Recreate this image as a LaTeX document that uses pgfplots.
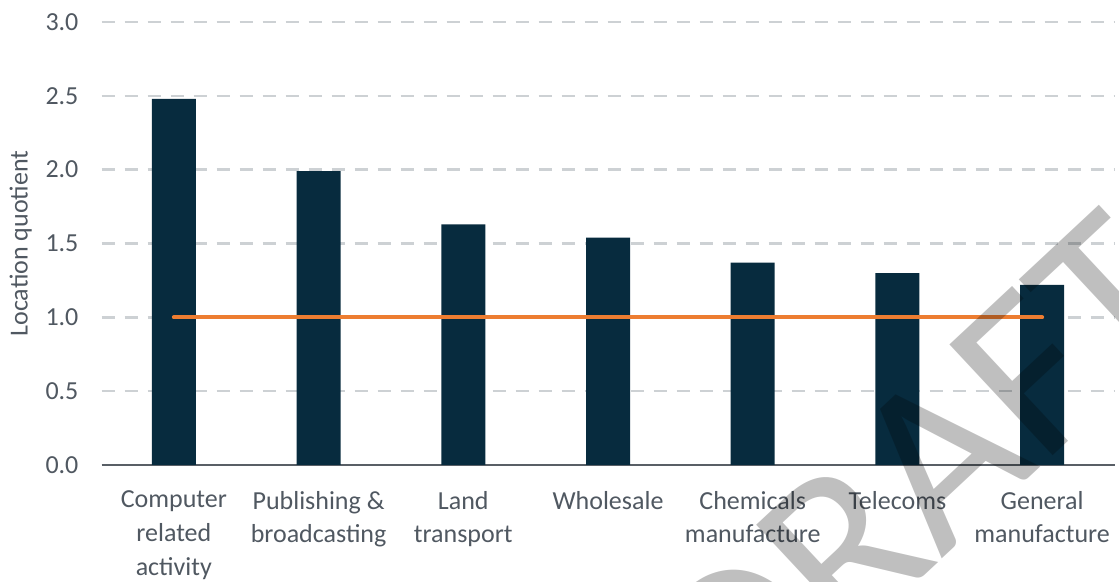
\documentclass[border=0pt]{standalone}
\usepackage{fontspec}
\setmainfont{Carlito}
\usepackage{pgfplots}
\pgfplotsset{compat=1.18}
\usetikzlibrary{calc}
\definecolor{barnavy}{RGB}{7,43,62}
\definecolor{lqorange}{RGB}{237,125,49}
\definecolor{gridgray}{RGB}{205,209,212}
\definecolor{txtgray}{RGB}{80,88,97}
\definecolor{axgray}{RGB}{89,95,102}

\begin{document}
\begin{tikzpicture}
\begin{axis}[name=ax,
  scale only axis, width=506.5pt, height=221.5pt,
  ybar, bar width=22pt, bar shift=0pt,
  xmin=-0.5, xmax=6.5, ymin=0, ymax=3,
  xtick={0,...,6},
  xticklabels={{Computer\\related\\activity},{Publishing \&\\broadcasting},{Land\\transport},
    {Wholesale},{Chemicals\\manufacture},{Telecoms},{General\\manufacture}},
  ytick={0,0.5,...,3},
  /pgf/number format/assume math mode=true,
  tick label style={font=\fontsize{13}{16.8}\selectfont, text=txtgray},
  xticklabel style={align=center, yshift=-9.5pt},
  yticklabel style={xshift=-8pt, /pgf/number format/.cd, fixed, fixed zerofill, precision=1},
  major tick length=0pt,
  ylabel={Location quotient},
  ylabel style={font=\fontsize{13}{15}\selectfont, text=txtgray},
  axis x line*=bottom, axis y line*=left,
  x axis line style={draw=axgray, line width=1pt},
  y axis line style={draw=none},
  ymajorgrids, grid style={draw=gridgray, line width=1.2pt, dash pattern=on 6.5pt off 5pt},
  clip=false,
]
\addplot[fill=barnavy, draw=none] coordinates
  {(0,2.48) (1,1.99) (2,1.63) (3,1.54) (4,1.37) (5,1.30) (6,1.22)};
\addplot[sharp plot, draw=lqorange, line width=2pt, line cap=round] coordinates
  {(0,1) (6,1)};
\end{axis}
% DRAFT watermark on top
\node[overlay, rotate=43, text=black, text opacity=0.25,
  font=\fontsize{118}{118}\selectfont, inner sep=0pt]
  at ($(ax.south west)+(410pt,-5pt)$) {DRAFT};
\pgfresetboundingbox
\path ($(ax.south west)+(-50.75pt,-58pt)$) rectangle ($(ax.north east)+(2.25pt,11pt)$);
\end{tikzpicture}
\end{document}
